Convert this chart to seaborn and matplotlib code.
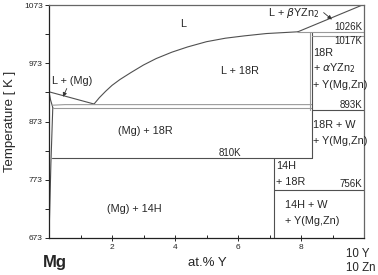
import matplotlib
matplotlib.use("Agg")
import matplotlib.pyplot as plt
import seaborn as sns
import pandas as pd

# phase boundaries (at.% Y, temperature K)
liq_mg_x = [0.0, 1.43]
liq_mg_t = [924, 903]
liquidus_x = [1.43, 1.6, 1.8, 2.0, 2.25, 2.6, 3.0, 3.4, 3.9, 4.4, 5.0, 5.6, 6.2, 6.9, 7.9]
liquidus_t = [903, 914, 925, 935, 945, 957, 970, 981, 992, 1001, 1010, 1016, 1020, 1024, 1027]
beta_x = [7.9, 9.95]
beta_t = [1027, 1073]
solidus_x = [0.0, 0.05, 0.12]
solidus_t = [924, 910, 897]
solvus_x = [0.0, 0.06, 0.12]
solvus_t = [673, 800, 897]
eut_upper_t = 902
eut_lower_t = 896
x_18r = 8.35
x_14h = 7.15
iso_temps = [1026, 1020, 893, 810, 756]

sns.set_style("ticks")
plt.rcParams['font.family'] = ['Liberation Sans', 'DejaVu Sans']

fig = plt.figure(figsize=(3.78, 2.75), dpi=100)
ax = fig.add_axes([49/378, 1-238/275, 315/378, 233/275])

dark = '#505050'
light = '#9a9a9a'
lw = 0.8

for xs, ts in [(liq_mg_x, liq_mg_t), (liquidus_x, liquidus_t), (beta_x, beta_t),
               (solidus_x, solidus_t), (solvus_x, solvus_t)]:
    sns.lineplot(data=pd.DataFrame({'x': xs, 't': ts}), x='x', y='t', ax=ax,
                 color=dark, lw=lw, sort=False)

# eutectic double line
ax.plot([0.12, 0.5, x_18r], [eut_upper_t - 1, eut_upper_t, eut_upper_t], color=light, lw=lw)
ax.plot([0.12, x_18r], [eut_lower_t, eut_lower_t], color=light, lw=lw)
# 18R boundary (double above 893K)
ax.plot([x_18r - 0.05, x_18r - 0.05], [iso_temps[0], iso_temps[2]], color=light, lw=lw)
ax.plot([x_18r, x_18r], [iso_temps[0], iso_temps[3]], color=dark, lw=lw)
# isotherms
ax.plot([7.9, 10], [iso_temps[0], iso_temps[0]], color=light, lw=lw)
ax.plot([x_18r, 10], [iso_temps[1], iso_temps[1]], color=light, lw=lw)
ax.plot([x_18r, 10], [iso_temps[2], iso_temps[2]], color=dark, lw=lw)
ax.plot([0.08, x_18r], [iso_temps[3], iso_temps[3]], color=dark, lw=lw)
ax.plot([x_14h, 10], [iso_temps[4], iso_temps[4]], color=dark, lw=lw)
ax.plot([x_14h, x_14h], [iso_temps[3], 673], color=dark, lw=lw)

ax.set_xlim(0, 10)
ax.set_ylim(673, 1073)
ax.set_xticks([2, 4, 6, 8])
ax.set_xticks([1, 3, 5, 7, 9], minor=True)
ax.set_yticks([673, 773, 873, 973, 1073])
ax.set_yticks([723, 823, 923, 1023], minor=True)
ax.tick_params(axis='x', which='major', direction='inout', length=4, width=0.7, labelsize=6, pad=2)
ax.tick_params(axis='x', which='minor', direction='in', length=2.5, width=0.7)
ax.tick_params(axis='y', which='both', direction='out', length=3, width=0.7, labelsize=6, pad=1.5)
ax.set_xlabel('')
ax.set_ylabel('')
for s in ax.spines.values():
    s.set_linewidth(0.9)
    s.set_color('#222222')
ax.spines['top'].set_color('#666666')
ax.spines['right'].set_color('#666666')

fs = 7.8
ks = 7
ax.text(4.25, 1041, 'L', ha='center', va='center', fontsize=fs)
ax.text(6.06, 960, 'L + 18R', ha='center', va='center', fontsize=fs)
ax.text(7.78, 1059, r'L + $\beta$YZn$_2$', ha='center', va='center', fontsize=fs)
ax.annotate('', xy=(9.05, 1045), xytext=(8.65, 1063),
            arrowprops=dict(arrowstyle='-|>', color='#333333', lw=0.6, mutation_scale=6))
ax.text(0.73, 943, 'L + (Mg)', ha='center', va='center', fontsize=fs)
ax.annotate('', xy=(0.41, 911), xytext=(0.6, 934),
            arrowprops=dict(arrowstyle='-|>', color='#333333', lw=0.6, mutation_scale=6))
ax.text(3.05, 857, '(Mg) + 18R', ha='center', va='center', fontsize=fs)
ax.text(2.71, 722, '(Mg) + 14H', ha='center', va='center', fontsize=fs)
ax.text(5.75, 819, '810K', ha='center', va='center', fontsize=ks)
ax.text(9.95, 1034.5, '1026K', ha='right', va='center', fontsize=ks)
ax.text(9.95, 1012, '1017K', ha='right', va='center', fontsize=ks)
ax.text(9.95, 902, '893K', ha='right', va='center', fontsize=ks)
ax.text(9.95, 766, '756K', ha='right', va='center', fontsize=ks)
ax.text(8.38, 991, '18R', ha='left', va='center', fontsize=fs)
ax.text(8.38, 964, r'+ $\alpha$YZn$_2$', ha='left', va='center', fontsize=fs)
ax.text(8.38, 936, '+ Y(Mg,Zn)', ha='left', va='center', fontsize=fs)
ax.text(8.38, 867, '18R + W', ha='left', va='center', fontsize=fs)
ax.text(8.38, 840, '+ Y(Mg,Zn)', ha='left', va='center', fontsize=fs)
ax.text(7.2, 797, '14H', ha='left', va='center', fontsize=fs)
ax.text(7.2, 769, '+ 18R', ha='left', va='center', fontsize=fs)
ax.text(7.5, 729, '14H + W', ha='left', va='center', fontsize=fs)
ax.text(7.5, 703, '+ Y(Mg,Zn)', ha='left', va='center', fontsize=fs)

fig.text(55/378, 1-262/275, 'Mg', ha='center', va='center', fontsize=12, fontweight='bold')
fig.text(207/378, 1-263/275, 'at.% Y', ha='center', va='center', fontsize=9.5)
fig.text(346/378, 1-254/275, '10 Y', ha='left', va='center', fontsize=8.3)
fig.text(346/378, 1-268/275, '10 Zn', ha='left', va='center', fontsize=8.3)
fig.text(10/378, 1-121/275, 'Temperature [ K ]', ha='center', va='center', rotation=90, fontsize=9.5)

fig.savefig('out.png', dpi=100)
